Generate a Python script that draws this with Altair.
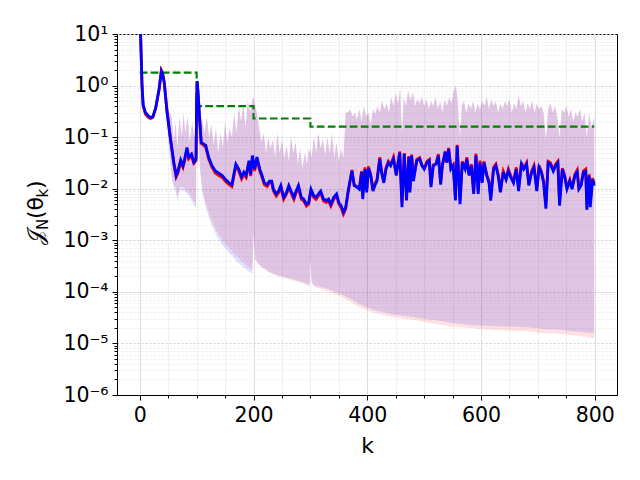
import altair as alt
import pandas as pd

# ---------------- data ----------------
k_line = [0, 2, 4, 6, 10, 15, 19, 23, 28, 34, 38, 40, 43, 48, 54, 60, 64, 67, 72, 76, 79, 83, 86, 91, 95, 99,
          100, 101, 103, 105, 108, 112, 116, 121, 127, 133, 139, 145, 151, 157, 162, 165, 169, 174, 179, 183,
          187, 192, 195, 198, 202, 206, 211, 215, 219, 224, 228, 232, 235, 240, 244, 248, 253, 258, 262, 266,
          271, 275, 279, 284, 288, 293, 297, 301, 306, 310, 314, 318, 323, 328, 332, 336, 341, 346, 350, 354,
          358, 362, 366, 369, 373, 377, 382, 386, 390, 392, 396, 399, 402, 406, 410, 414, 417, 422, 425, 429,
          433, 437, 441, 446, 451, 457, 461, 465, 469, 473, 475, 478, 481, 487, 492, 496, 500, 505, 509, 512,
          516, 521, 525, 529, 532, 537, 540, 543, 547, 551, 555, 558, 563, 567, 572, 575, 579, 583, 587, 591,
          595, 598, 602, 605, 610, 614, 617, 622, 626, 630, 634, 639, 644, 648, 652, 657, 662, 666, 671, 675,
          680, 684, 689, 693, 698, 702, 706, 710, 714, 718, 722, 727, 731, 735, 738, 743, 747, 751, 756, 760,
          765, 769, 772, 776, 780, 784, 786, 790, 792, 796, 799]

j_blue = [40, 6.0, 1.0, 0.42, 0.30, 0.26, 0.24, 0.25, 0.37, 0.85, 1.9, 1.7, 1.14, 0.30, 0.091, 0.032, 0.018,
          0.022, 0.036, 0.028, 0.038, 0.063, 0.041, 0.047, 0.033, 0.038,
          0.5, 1.22, 0.6, 0.26, 0.079, 0.074, 0.069, 0.041, 0.028, 0.022, 0.020, 0.018, 0.015, 0.013, 0.012,
          0.018, 0.030, 0.024, 0.017, 0.021, 0.018, 0.035, 0.019, 0.044, 0.024, 0.041, 0.024, 0.018, 0.013,
          0.012, 0.014, 0.014, 0.0098, 0.0079, 0.009, 0.0115, 0.0068, 0.0085, 0.0115, 0.009, 0.0068, 0.009,
          0.0115, 0.0068, 0.0063, 0.0050, 0.0054, 0.0098, 0.0073, 0.0068, 0.0079, 0.009, 0.0063, 0.0059,
          0.0063, 0.005, 0.0068, 0.0079, 0.0054, 0.0047, 0.0035, 0.0043, 0.0085, 0.013, 0.022, 0.0115, 0.0107,
          0.0098, 0.021, 0.0063, 0.024, 0.0085, 0.025, 0.018, 0.009, 0.012, 0.014, 0.038, 0.021, 0.013, 0.024,
          0.032, 0.028, 0.038, 0.018, 0.050, 0.0044, 0.047, 0.0059, 0.041, 0.0085, 0.044, 0.014, 0.035, 0.038,
          0.028, 0.024, 0.032, 0.035, 0.0107, 0.028, 0.030, 0.044, 0.012, 0.028, 0.051, 0.032, 0.059, 0.024,
          0.028, 0.0059, 0.068, 0.005, 0.032, 0.024, 0.038, 0.018, 0.028, 0.0079, 0.044, 0.0079, 0.032, 0.013,
          0.032, 0.018, 0.013, 0.0059, 0.024, 0.028, 0.018, 0.0085, 0.021, 0.015, 0.022, 0.017, 0.013, 0.024,
          0.009, 0.030, 0.024, 0.030, 0.0115, 0.021, 0.026, 0.009, 0.026, 0.021, 0.013, 0.0041, 0.032, 0.030,
          0.022, 0.028, 0.032, 0.0047, 0.024, 0.017, 0.0098, 0.014, 0.0098, 0.018, 0.021, 0.0098, 0.0115, 0.021,
          0.022, 0.0039, 0.018, 0.0044, 0.015, 0.0115]

j_red = [40, 6.2, 1.05, 0.40, 0.28, 0.24, 0.23, 0.24, 0.36, 0.85, 2.0, 1.8, 1.2, 0.32, 0.095, 0.030, 0.017,
         0.020, 0.033, 0.026, 0.035, 0.058, 0.038, 0.044, 0.031, 0.035,
         0.5, 1.2, 0.58, 0.25, 0.075, 0.070, 0.064, 0.038, 0.026, 0.020, 0.018, 0.0165, 0.0138, 0.012, 0.011,
         0.0165, 0.028, 0.022, 0.0155, 0.019, 0.0165, 0.032, 0.0175, 0.040, 0.022, 0.038, 0.022, 0.0165, 0.012,
         0.011, 0.013, 0.013, 0.009, 0.0072, 0.0083, 0.0105, 0.0062, 0.0078, 0.0105, 0.0083, 0.0062, 0.0083,
         0.0105, 0.0062, 0.0058, 0.0046, 0.005, 0.009, 0.0067, 0.0062, 0.0072, 0.0083, 0.0058, 0.0054, 0.0058,
         0.0046, 0.0062, 0.0072, 0.005, 0.0043, 0.0032, 0.004, 0.008, 0.0125, 0.023, 0.012, 0.011, 0.0102,
         0.022, 0.0075, 0.026, 0.0095, 0.027, 0.019, 0.0098, 0.013, 0.015, 0.041, 0.022, 0.014, 0.026, 0.034,
         0.029, 0.041, 0.019, 0.053, 0.0055, 0.049, 0.007, 0.043, 0.0095, 0.046, 0.015, 0.037, 0.040, 0.029,
         0.025, 0.034, 0.037, 0.012, 0.029, 0.031, 0.047, 0.013, 0.029, 0.054, 0.033, 0.062, 0.025, 0.029,
         0.007, 0.071, 0.006, 0.034, 0.025, 0.041, 0.019, 0.030, 0.009, 0.048, 0.009, 0.035, 0.014, 0.034,
         0.019, 0.014, 0.007, 0.026, 0.030, 0.019, 0.0095, 0.022, 0.016, 0.024, 0.018, 0.014, 0.026, 0.010,
         0.032, 0.025, 0.032, 0.0125, 0.022, 0.028, 0.010, 0.028, 0.022, 0.014, 0.005, 0.034, 0.032, 0.023,
         0.030, 0.034, 0.0058, 0.025, 0.018, 0.0105, 0.015, 0.0105, 0.019, 0.023, 0.0105, 0.0125, 0.022,
         0.024, 0.0048, 0.019, 0.0055, 0.016, 0.0125]

k_band = [0, 4, 6, 10, 15, 19, 23, 28, 34, 38, 43, 48, 52, 56, 60, 63, 66, 70, 74, 77, 80, 84, 88, 92, 96, 99,
          100, 101, 103, 106, 110, 114, 118, 122, 126, 130, 134, 138, 142, 146, 150, 154, 158, 162, 166, 170,
          174, 178, 182, 186, 190, 194, 198,
          200, 201, 203, 206, 210, 214, 218, 222, 226, 230, 234, 238, 242, 246, 250, 254, 258, 262, 266, 270,
          274, 278, 282, 286, 290, 294, 297, 299, 300, 302, 306, 310, 314, 318, 322, 326, 330, 334, 338, 342,
          346, 350, 354, 358, 362, 366, 370, 374, 378, 382, 386, 390, 394, 398, 402, 406, 410, 414, 418, 422,
          426, 430, 434, 438, 442, 446, 450, 454, 458, 461, 464, 468, 472, 476, 480, 484, 488, 492, 496, 500,
          504, 508, 512, 516, 520, 524, 528, 532, 536, 540, 544, 548, 552, 556, 559, 563, 566, 570, 574, 578,
          582, 586, 590, 594, 598, 602, 606, 610, 614, 618, 622, 626, 630, 634, 638, 642, 646, 650, 654, 658,
          662, 666, 670, 674, 678, 682, 686, 690, 694, 698, 702, 706, 710, 714, 718, 722, 726, 730, 734, 738,
          742, 746, 750, 754, 758, 762, 766, 770, 774, 778, 782, 786, 790, 794, 799]

band_hi = [40, 1.1, 0.45, 0.32, 0.28, 0.26, 0.27, 0.40, 0.9, 2.0, 1.3, 0.45, 0.3, 0.25, 0.08, 0.2, 0.06, 0.25,
           0.1, 0.3, 0.12, 0.25, 0.08, 0.2, 0.1, 0.15,
           1.22, 1.25, 0.6, 0.3, 0.2, 0.12, 0.25, 0.1, 0.18, 0.07, 0.15, 0.05, 0.12, 0.06, 0.2, 0.08, 0.15,
           0.1, 0.3, 0.12, 0.4, 0.2, 0.45, 0.15, 0.5, 0.3, 0.55,
           0.6, 0.5, 0.4, 0.3, 0.15, 0.08, 0.12, 0.05, 0.1, 0.06, 0.09, 0.04, 0.12, 0.05, 0.09, 0.04, 0.07,
           0.035, 0.1, 0.05, 0.08, 0.03, 0.06, 0.025, 0.05, 0.03, 0.06, 0.05, 0.06, 0.04, 0.1, 0.05, 0.12,
           0.06, 0.09, 0.045, 0.1, 0.05, 0.12, 0.04, 0.08, 0.035, 0.06, 0.04, 0.3, 0.3, 0.35, 0.25, 0.3, 0.22,
           0.35, 0.2, 0.4, 0.25, 0.3, 0.18, 0.35, 0.28, 0.4, 0.3, 0.5, 0.35, 0.45, 0.3, 0.6, 0.4, 0.7, 0.45,
           0.9, 0.12, 0.6, 0.4, 0.8, 0.5, 0.75, 0.4, 0.55, 0.45, 0.6, 0.4, 0.55, 0.35, 0.5, 0.4, 0.6, 0.35,
           0.5, 0.3, 0.55, 0.4, 0.6, 0.45, 0.8, 1.0, 0.5, 0.1, 0.4, 0.5, 0.3, 0.45, 0.35, 0.5, 0.3, 0.45, 0.35,
           0.5, 0.4, 0.6, 0.35, 0.55, 0.4, 0.5, 0.3, 0.45, 0.35, 0.5, 0.4, 0.55, 0.3, 0.45, 0.35, 0.65, 0.4,
           0.5, 0.3, 0.45, 0.35, 0.5, 0.3, 0.45, 0.35, 0.4, 0.3, 0.09, 0.35, 0.45, 0.3, 0.4, 0.25, 0.1, 0.35,
           0.3, 0.4, 0.25, 0.35, 0.2, 0.3, 0.25, 0.35, 0.2, 0.3, 0.1, 0.3, 0.15, 0.25]

red_lo = [40, 0.9, 0.38, 0.27, 0.23, 0.21, 0.22, 0.33, 0.75, 1.7, 0.9, 0.2, 0.06, 0.02, 0.012, 0.011, 0.0068,
          0.0105, 0.011, 0.0105, 0.0098, 0.009, 0.008, 0.0066, 0.0055, 0.005,
          0.5, 0.7, 0.1, 0.025, 0.01, 0.0062, 0.0045, 0.0033, 0.0025, 0.002, 0.0016, 0.0013, 0.00115, 0.001,
          0.00088, 0.00078, 0.0007, 0.00062, 0.00055, 0.00049, 0.00045, 0.0004, 0.00037, 0.00034, 0.00031,
          0.00029, 0.00027,
          0.0015, 0.0008, 0.00042, 0.00037, 0.00033, 0.0003, 0.00028, 0.00026, 0.00024, 0.00023, 0.00022,
          0.00021, 0.0002, 0.000195, 0.00019, 0.000185, 0.00018, 0.000175, 0.00017, 0.000165, 0.00016,
          0.000155, 0.00015, 0.000145, 0.00014, 0.000135, 0.00013, 0.000128, 0.00042, 0.00015, 0.000125,
          0.00012, 0.000117, 0.000114, 0.000111, 0.000107, 0.000103, 0.0001, 0.000096, 0.000092, 0.000088,
          0.000084, 0.00008, 0.000076, 0.000072, 0.000068, 0.000064, 0.00006, 0.000057, 0.000054, 0.000051,
          0.000049, 0.000047, 0.000045, 0.000043, 0.000042, 0.00004, 0.000039, 0.000038, 0.000037, 0.000036,
          0.000035, 0.000034, 0.000034, 0.000033, 0.000032, 0.000032, 0.0000315, 0.000031, 0.0000305,
          0.0000302, 0.00003, 0.0000295, 0.000029, 0.0000285, 0.000028, 0.0000275, 0.000027, 0.0000265,
          0.000026, 0.0000256, 0.0000252, 0.0000248, 0.0000244, 0.000024, 0.0000236, 0.0000232, 0.0000228,
          0.0000224, 0.000022, 0.0000217, 0.0000214, 0.0000212, 0.000021, 0.0000209, 0.0000207, 0.0000205,
          0.0000203, 0.0000201, 0.00002, 0.0000198, 0.0000196, 0.0000194, 0.0000192, 0.000019, 0.0000189,
          0.0000188, 0.0000187, 0.0000186, 0.0000185, 0.0000184, 0.0000183, 0.0000182, 0.0000181, 0.000018,
          0.0000179, 0.0000178, 0.0000178, 0.0000177, 0.0000176, 0.0000175, 0.0000175, 0.0000174, 0.0000173,
          0.0000172, 0.000017, 0.0000168, 0.0000166, 0.0000164, 0.0000162, 0.000016, 0.0000159, 0.0000158,
          0.0000157, 0.0000156, 0.0000156, 0.0000155, 0.0000155, 0.0000154, 0.0000153, 0.0000152, 0.0000151,
          0.000015, 0.0000148, 0.0000146, 0.0000144, 0.0000142, 0.000014, 0.0000138, 0.0000136, 0.0000134,
          0.0000133, 0.0000131, 0.0000128, 0.0000125]

blue_lo = [40, 0.9, 0.38, 0.27, 0.23, 0.21, 0.22, 0.33, 0.75, 1.7, 0.85, 0.17, 0.05, 0.016, 0.01, 0.0095,
           0.0058, 0.009, 0.0095, 0.009, 0.0085, 0.0078, 0.0068, 0.0056, 0.0046, 0.0043,
           0.5, 0.7, 0.09, 0.021, 0.0085, 0.0052, 0.0037, 0.0027, 0.002, 0.0016, 0.0013, 0.00105, 0.00092,
           0.0008, 0.0007, 0.00062, 0.00056, 0.0005, 0.00044, 0.00039, 0.00036, 0.00033, 0.0003, 0.00028,
           0.00026, 0.00024, 0.00022,
           0.0015, 0.0008, 0.00043, 0.00039, 0.00034, 0.00031, 0.00029, 0.00027, 0.00025, 0.00024, 0.000228,
           0.00022, 0.00021, 0.000205, 0.0002, 0.000195, 0.00019, 0.000185, 0.00018, 0.000175, 0.00017,
           0.000165, 0.00016, 0.000155, 0.00015, 0.000145, 0.00014, 0.000138, 0.00044, 0.00016, 0.000135,
           0.00013, 0.000127, 0.000124, 0.000121, 0.000118, 0.000114, 0.00011, 0.000106, 0.000102, 0.000098,
           0.000094, 0.00009, 0.000086, 0.000082, 0.000078, 0.000074, 0.00007, 0.000066, 0.000062, 0.000059,
           0.000056, 0.000053, 0.000051, 0.000049, 0.000047, 0.000045, 0.000044, 0.000043, 0.000042, 0.000041,
           0.00004, 0.000039, 0.000038, 0.000037, 0.0000365, 0.000036, 0.0000355, 0.000035, 0.0000348,
           0.0000345, 0.000034, 0.0000335, 0.000033, 0.0000325, 0.000032, 0.0000315, 0.000031, 0.0000305,
           0.00003, 0.0000296, 0.0000292, 0.0000288, 0.0000284, 0.000028, 0.0000276, 0.0000272, 0.0000268,
           0.0000264, 0.000026, 0.0000256, 0.0000252, 0.0000248, 0.0000244, 0.0000242, 0.000024, 0.0000238,
           0.0000236, 0.0000234, 0.0000232, 0.000023, 0.0000228, 0.0000226, 0.0000224, 0.0000223, 0.0000222,
           0.0000221, 0.000022, 0.0000219, 0.0000218, 0.0000217, 0.0000216, 0.0000215, 0.0000214, 0.0000213,
           0.0000212, 0.0000212, 0.0000211, 0.0000211, 0.000021, 0.000021, 0.000021, 0.0000209, 0.0000208,
           0.0000207, 0.0000205, 0.0000203, 0.0000201, 0.0000199, 0.0000197, 0.0000195, 0.0000193, 0.0000191,
           0.000019, 0.0000189, 0.0000188, 0.0000188, 0.0000187, 0.0000186, 0.0000185, 0.0000183, 0.0000181,
           0.0000179, 0.0000177, 0.0000175, 0.0000173, 0.0000171, 0.0000169, 0.0000167, 0.0000165, 0.0000163,
           0.0000162, 0.0000161, 0.000016, 0.000016]

k_bound = [0, 100, 200, 300, 799]
bound = [1.78, 0.40, 0.23, 0.16, 0.16]

x_ticks = [0, 50, 100, 150, 200, 250, 300, 350, 400, 450, 500, 550, 600, 650, 700, 750, 800]
y_ticks = [m * 10.0 ** e for e in range(-6, 1) for m in range(1, 10)] + [10.0]

# y-axis title pieces: J_N(theta_k)
title_main = ["𝒥", "(θ", ")"]
title_sub = ["N", "k"]

# ---------------- chart ----------------
FONT = "DejaVu Sans"
line_df = pd.DataFrame({"k": k_line, "red": j_red, "blue": j_blue})
band_df = pd.DataFrame({"k": k_band, "hi": band_hi, "red_lo": red_lo, "blue_lo": blue_lo})
bound_df = pd.DataFrame({"k": k_bound, "b": bound})
one = pd.DataFrame({"d": [0]})

DEC = "abs(log(datum.value)/LN10 - round(log(datum.value)/LN10)) < 0.01"
XMAJ = "datum.value % 200 == 0"

x_axis = alt.Axis(
    values=x_ticks, title="k", labelExpr=f"{XMAJ} ? datum.label : ''",
    tickSize={"condition": {"test": XMAJ, "value": 5}, "value": 3},
    gridColor={"condition": {"test": XMAJ, "value": "#dcdcdc"}, "value": "#f0f0f0"},
    labelFontSize=20.5, titleFontSize=22, labelPadding=5, titleY=57, titleBaseline="alphabetic",
    labelFont=FONT, titleFont=FONT, titleFontWeight="normal",
    labelColor="black", titleColor="black", tickColor="black", domainColor="black",
    labelFlush=False, labelOverlap=False,
)
y_axis = alt.Axis(
    values=y_ticks, title=None,
    labelExpr=f"{DEC} ? '10' + ['⁻⁶','⁻⁵','⁻⁴','⁻³','⁻²','⁻¹','⁰','¹'][round(log(datum.value)/LN10) + 6] : ''",
    tickSize={"condition": {"test": DEC, "value": 5}, "value": 3},
    gridColor={"condition": {"test": DEC, "value": "#cfcfcf"}, "value": "#ededed"},
    gridDash=[2, 2],
    labelFontSize=20.5, labelPadding=4,
    labelFont=FONT, labelColor="black", tickColor="black", domainColor="black",
    labelFlush=False, labelOverlap=False,
)
xs = alt.Scale(domain=[-40, 839], nice=False, zero=False)
ys = alt.Scale(type="log", domain=[1e-6, 10], nice=False)

def X():
    return alt.X("k:Q", scale=xs, axis=x_axis)

red_band = alt.Chart(band_df).mark_area(color="red", opacity=0.12, clip=True).encode(
    x=X(), y=alt.Y("hi:Q", scale=ys, axis=y_axis), y2="red_lo:Q")
blue_band = alt.Chart(band_df).mark_area(color="blue", opacity=0.12, clip=True).encode(
    x=X(), y=alt.Y("hi:Q", scale=ys, axis=y_axis), y2="blue_lo:Q")
green = alt.Chart(bound_df).mark_line(color="green", strokeWidth=2.1, strokeDash=[7.7, 3.3],
                                      interpolate="step-after", clip=True).encode(
    x=X(), y=alt.Y("b:Q", scale=ys, axis=y_axis))
red_line = alt.Chart(line_df).mark_line(color="red", strokeWidth=2.8, clip=True).encode(
    x=X(), y=alt.Y("red:Q", scale=ys, axis=y_axis))
blue_line = alt.Chart(line_df).mark_line(color="blue", strokeWidth=2.8, clip=True).encode(
    x=X(), y=alt.Y("blue:Q", scale=ys, axis=y_axis))

# rotated y-axis title, built from pieces so that N and k are real subscripts
def piece(txt, size, px, py):
    return alt.Chart(one).mark_text(
        angle=270, align="left", baseline="alphabetic", font=FONT, fontSize=size, color="black"
    ).encode(x=alt.value(px), y=alt.value(py), text=alt.value(txt))

ttl = [
    piece(title_main[0], 22, -74, 211),
    piece(title_sub[0], 15, -69, 196),
    piece(title_main[1], 22, -74, 185),
    piece(title_sub[1], 15, -69, 163.5),
    piece(title_main[2], 22, -74, 155),
]

chart = alt.layer(red_band, blue_band, green, red_line, blue_line, *ttl).properties(
    width=500, height=361,
    autosize=alt.AutoSizeParams(type="none"),
    padding={"left": 109, "top": 26, "right": 15, "bottom": 70},
    background="white",
).configure_view(stroke="black", strokeWidth=1)

chart.save("out.html", embed_options={"renderer": "svg", "actions": False})
